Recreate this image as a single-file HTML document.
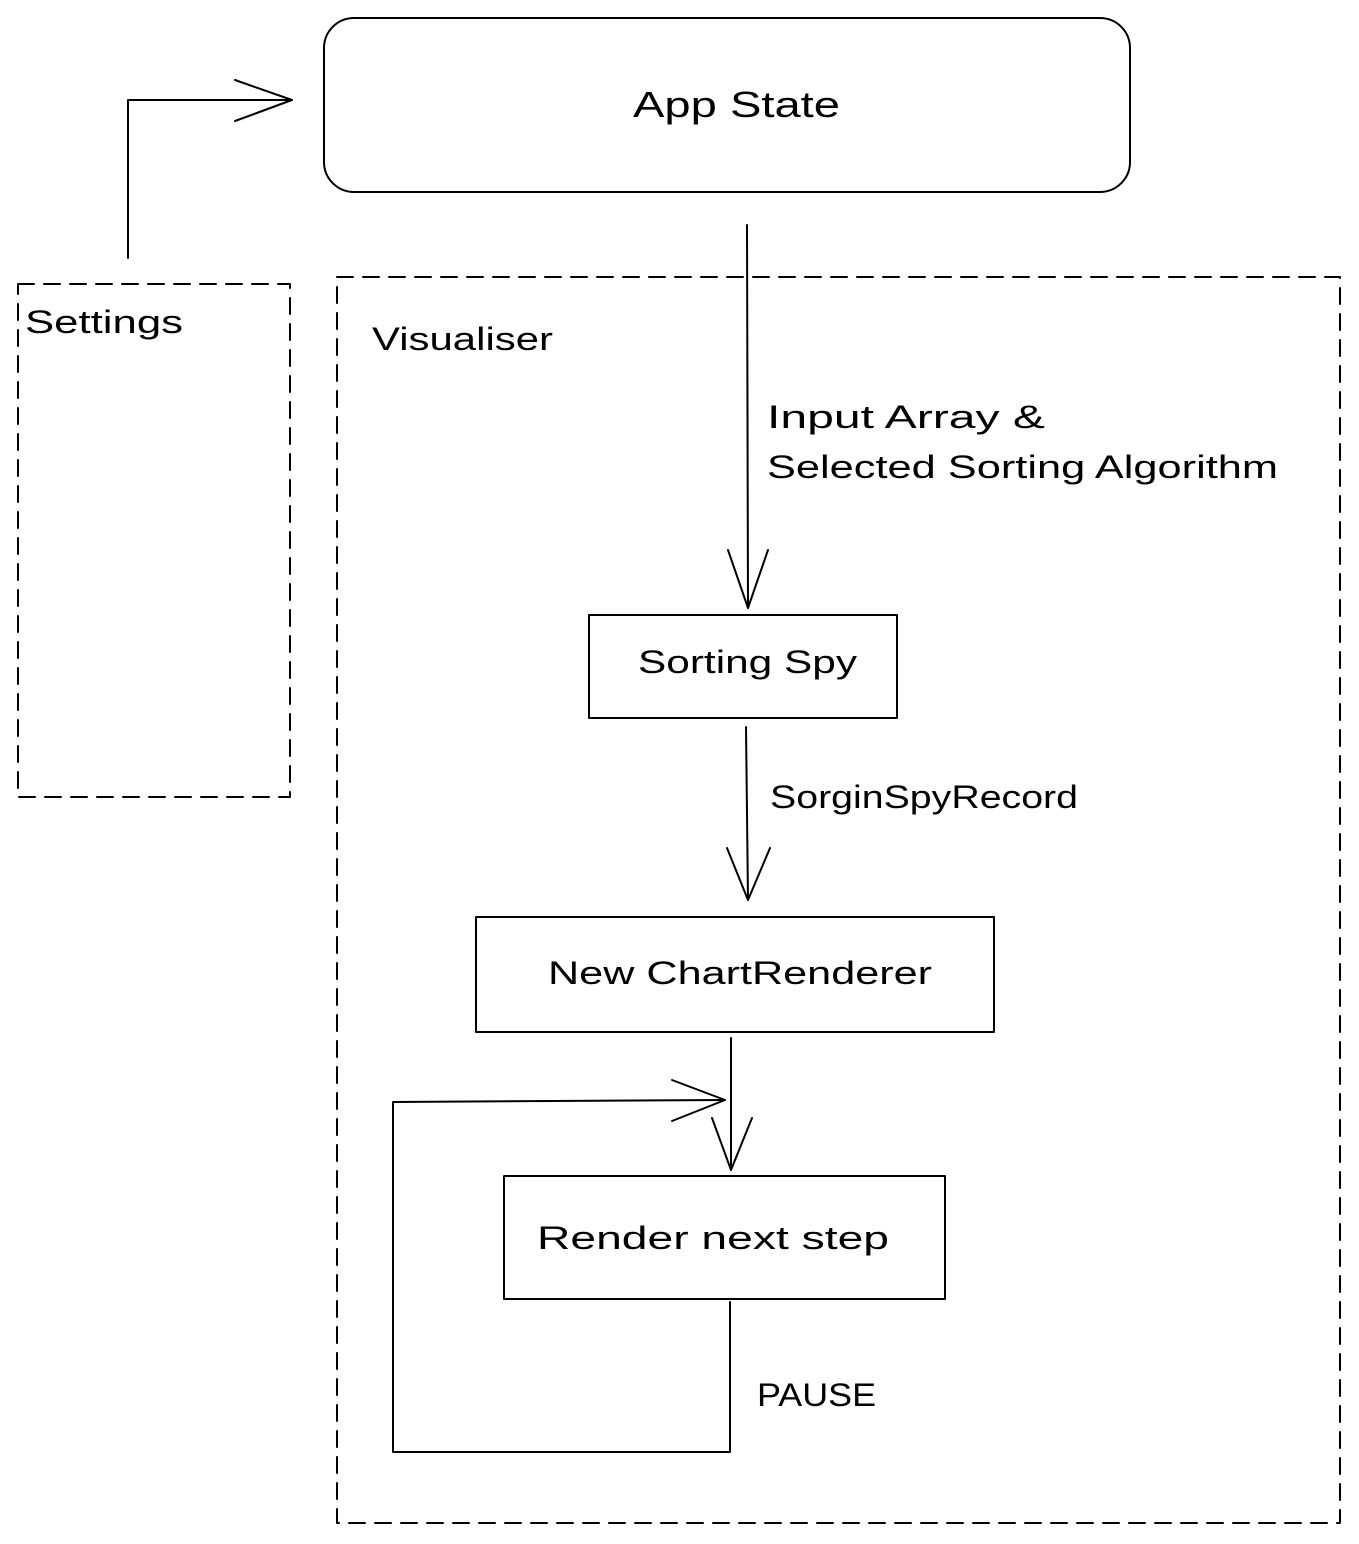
<!DOCTYPE html>
<html><head><meta charset="utf-8"><style>
html,body{margin:0;padding:0;background:#fff;}
svg{display:block;}
text{font-family:"Liberation Sans",sans-serif;fill:#000;}
</style></head><body>
<svg width="1359" height="1544" viewBox="0 0 1359 1544" xmlns="http://www.w3.org/2000/svg">
<g fill="none" stroke="#000" stroke-width="2" stroke-linecap="round" stroke-linejoin="round">
<rect x="324" y="18" width="806" height="174" rx="30"/>
<rect x="18" y="284" width="272" height="513" stroke-dasharray="16 10"/>
<rect x="337" y="277" width="1003" height="1246" stroke-dasharray="16 10"/>
<path d="M128 258 L128 100 L292 100"/>
<path d="M235 80 L292 100 L235 121"/>
<path d="M747 225 L748 608"/>
<path d="M728 550 L748 608 L768 550"/>
<rect x="589" y="615" width="308" height="103"/>
<path d="M746 727 L748 900"/>
<path d="M727 848 L748 900 L770 848"/>
<rect x="476" y="917" width="518" height="115"/>
<path d="M731 1038 L731 1170"/>
<path d="M712 1118 L731 1170 L752 1118"/>
<rect x="504" y="1176" width="441" height="123"/>
<path d="M730 1302 L730 1452 L393 1452 L393 1102 L725 1100"/>
<path d="M672 1080 L725 1100 L672 1121"/>
</g>
<g lengthAdjust="spacingAndGlyphs">
<text x="633" y="117" font-size="36" textLength="207" lengthAdjust="spacingAndGlyphs">App State</text>
<text x="25" y="333" font-size="32" textLength="158" lengthAdjust="spacingAndGlyphs">Settings</text>
<text x="372" y="350" font-size="32" textLength="181" lengthAdjust="spacingAndGlyphs">Visualiser</text>
<text x="767" y="428" font-size="32" textLength="278" lengthAdjust="spacingAndGlyphs">Input Array &amp;</text>
<text x="767" y="478" font-size="32" textLength="511" lengthAdjust="spacingAndGlyphs">Selected Sorting Algorithm</text>
<text x="638" y="673" font-size="32" textLength="219" lengthAdjust="spacingAndGlyphs">Sorting Spy</text>
<text x="770" y="808" font-size="32" textLength="308" lengthAdjust="spacingAndGlyphs">SorginSpyRecord</text>
<text x="548" y="984" font-size="32" textLength="384" lengthAdjust="spacingAndGlyphs">New ChartRenderer</text>
<text x="537" y="1249" font-size="32" textLength="352" lengthAdjust="spacingAndGlyphs">Render next step</text>
<text x="757" y="1406" font-size="32" textLength="119" lengthAdjust="spacingAndGlyphs">PAUSE</text>
</g>
</svg>
</body></html>
